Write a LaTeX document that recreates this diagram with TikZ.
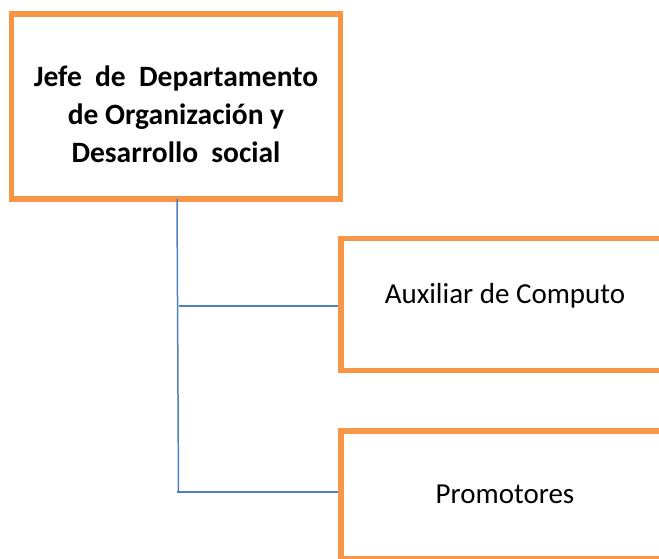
\documentclass[tikz,border=0pt]{standalone}
\usepackage{fontspec}
\setmainfont{Carlito}
\definecolor{boxorange}{HTML}{F79646}
\definecolor{lineblue}{HTML}{4F81BD}
\begin{document}
\begin{tikzpicture}[x=1pt,y=-1pt,
  orgbox/.style={draw=boxorange, line width=5.5pt, fill=white, inner sep=0pt},
  lbl/.style={inner sep=0pt, anchor=base, align=center, font=\fontsize{29}{38.5}\selectfont},
  link/.style={draw=lineblue, line width=1.5pt}]
\useasboundingbox (0,0) rectangle (659,559);
\clip (0,0) rectangle (659,559);
\node[orgbox, minimum width=329pt, minimum height=185pt] (jefe) at (176,106.5) {};
\node[orgbox, minimum width=328pt, minimum height=132pt] (aux) at (505,304.5) {};
\node[orgbox, minimum width=328pt, minimum height=128pt] (prom) at (505,495) {};
\node[lbl, font=\fontsize{29.5}{38.5}\selectfont\bfseries] (jefetxt) at (176,163)
  {Jefe\hspace{0.45em}de\hspace{0.45em}Departamento\\de Organización y\\Desarrollo\hspace{0.45em}social};
\node[lbl] (auxtxt) at (505,303.3) {Auxiliar de Computo};
\node[lbl] (promtxt) at (505,503) {Promotores};
\coordinate (vtop) at (177,199);
\coordinate (vbot) at (178.5,492);
\coordinate (h1) at (179,306);
\coordinate (h2) at (177,492);
\draw[link] (vtop) -- (vbot);
\draw[link] (h1) -- (h1 -| aux.west);
\draw[link] (h2) -- (h2 -| prom.west);
\end{tikzpicture}
\end{document}
